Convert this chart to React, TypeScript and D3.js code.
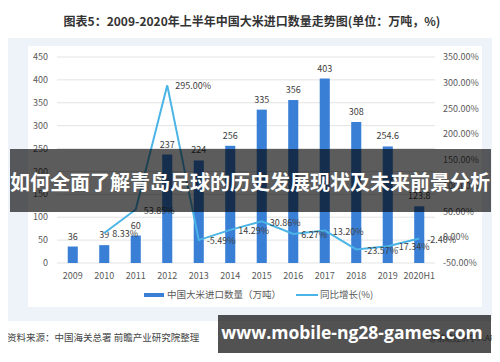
import * as d3 from 'd3';

const years = ['2009', '2010', '2011', '2012', '2013', '2014', '2015', '2016', '2017', '2018', '2019', '2020H1'];
const imports = [36, 39, 60, 237, 224, 256, 335, 356, 403, 308, 254.6, 123.8];
const growthYears = ['2010', '2011', '2012', '2013', '2014', '2015', '2016', '2017', '2018', '2019', '2020H1'];
const growth = [8.33, 53.85, 295.0, -5.49, 14.29, 30.86, 6.27, 13.2, -23.57, -17.34, -2.4];
const leftTicks = [0, 50, 100, 150, 200, 250, 300, 350, 400, 450];
const rightTicks = [-50, 0, 50, 100, 150, 200, 250, 300, 350];

const W = 500;
const H = 362;
const FONT = '"Noto Sans CJK SC", "Noto Sans", sans-serif';

export default function App() {
  const plot = { left: 57, right: 435, top: 57, bottom: 263 };

  const x = d3.scaleBand().domain(years).range([plot.left, plot.right]).paddingInner(0.68).paddingOuter(0.34);
  const yL = d3.scaleLinear().domain([0, 450]).range([plot.bottom, plot.top]);
  const yR = d3.scaleLinear().domain([-50, 350]).range([plot.bottom, plot.top]);
  const cx = (d: string) => (x(d) ?? 0) + x.bandwidth() / 2;

  const line = d3
    .line<number>()
    .x((_, i) => cx(growthYears[i]))
    .y((d) => yR(d));

  return (
    <div style={{ margin: -8 }}>
      <svg width={W} height={H} style={{ display: 'block', fontFamily: FONT }}>
        <rect width={W} height={H} fill="#ffffff" />
        <text x={252} y={26} textAnchor="middle" fontSize={12} fontWeight="bold" fill="#333">
          图表5：2009-2020年上半年中国大米进口数量走势图(单位：万吨，%)
        </text>
        <rect x={0} y={38} width={W} height={283} fill="#eef2f9" />
        <rect x={28} y={46} width={454} height={261} fill="#ffffff" />

        {leftTicks.map((t) => (
          <g key={'l' + t}>
            <line x1={plot.left} x2={plot.right} y1={yL(t)} y2={yL(t)} stroke="#e3e3e3" strokeWidth={1} />
            <text x={48} y={yL(t)} dy="0.35em" textAnchor="end" fontSize={9} fill="#595959">
              {t}
            </text>
          </g>
        ))}
        {rightTicks.map((t) => (
          <text key={'r' + t} x={443} y={yR(t)} dy="0.35em" fontSize={9} fill="#595959">
            {t.toFixed(2) + '%'}
          </text>
        ))}

        {years.map((d, i) => (
          <g key={d}>
            <rect x={x(d)} y={yL(imports[i])} width={x.bandwidth()} height={plot.bottom - yL(imports[i])} fill="#3a7fd6" />
            <text x={cx(d)} y={yL(imports[i]) - 7} textAnchor="middle" fontSize={9} fill="#404040">
              {imports[i]}
            </text>
            <text x={cx(d)} y={276} dy="0.35em" textAnchor="middle" fontSize={9} fill="#595959">
              {d}
            </text>
          </g>
        ))}

        <path d={line(growth) ?? ''} fill="none" stroke="#4bb4e6" strokeWidth={2} />
        {growth.map((v, i) => (
          <text key={'g' + i} x={cx(growthYears[i]) + 8} y={yR(v) + 1} dy="0.35em" fontSize={9} fill="#404040">
            {v.toFixed(2) + '%'}
          </text>
        ))}

        <rect x={144} y={293} width={20} height={4} fill="#3a7fd6" />
        <text x={167} y={295} dy="0.35em" fontSize={9.5} fill="#595959">
          中国大米进口数量（万吨）
        </text>
        <line x1={296} x2={318} y1={295} y2={295} stroke="#4bb4e6" strokeWidth={2} />
        <text x={320} y={295} dy="0.35em" fontSize={9.5} fill="#595959">
          同比增长(%)
        </text>

        <text x={7} y={338} dy="0.35em" fontSize={9.5} fill="#444">
          资料来源：中国海关总署 前瞻产业研究院整理
        </text>
        <text x={500} y={338} dy="0.35em" textAnchor="end" fontSize={8} fill="#666">
          @前瞻经济学人APP
        </text>

        <rect x={10} y={149} width={481} height={63} fill="rgba(0,0,0,0.64)" />
        <text x={250} y={183} dy="0.35em" textAnchor="middle" fontSize={20} fontWeight="bold" fill="#ffffff">
          如何全面了解青岛足球的历史发展现状及未来前景分析
        </text>

        <rect x={218} y={315} width={273} height={38} fill="rgba(0,0,0,0.68)" />
        <text x={352} y={333} dy="0.35em" textAnchor="middle" fontSize={17.5} fontWeight="bold" fill="#ffffff" fontFamily='"Open Sans", "DejaVu Sans", sans-serif'>
          www.mobile-ng28-games.com
        </text>
      </svg>
    </div>
  );
}
